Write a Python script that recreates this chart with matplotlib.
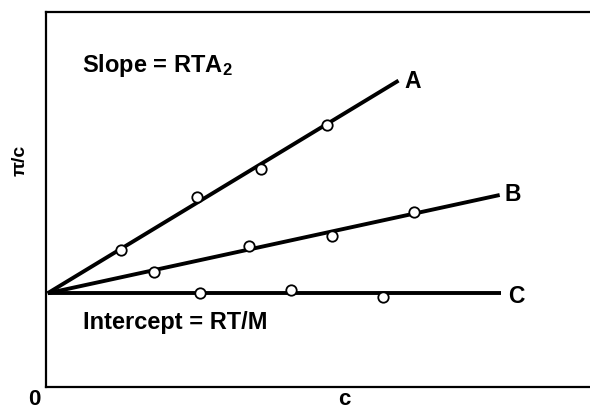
import matplotlib
matplotlib.use("Agg")
import matplotlib.pyplot as plt

plt.rcParams['font.family'] = ['Liberation Sans', 'DejaVu Sans']
plt.rcParams['mathtext.fontset'] = 'custom'
plt.rcParams['mathtext.default'] = 'regular'

# Data
series = ["A", "B", "C"]
intercept = 2.5
line_end_x = [6.45, 8.31, 8.33]
line_end_y = [8.17, 5.12, 2.50]
points_x = {
    "A": [1.34, 2.75, 3.93, 5.13],
    "B": [1.96, 3.71, 5.23, 6.73],
    "C": [2.81, 4.47, 6.16],
}
points_y = {
    "A": [3.65, 5.06, 5.81, 6.99],
    "B": [3.07, 3.76, 4.03, 4.67],
    "C": [2.50, 2.59, 2.41],
}
label_pos = {"A": (6.56, 7.97), "B": (8.40, 4.96), "C": (8.47, 2.24)}

W, H = 590, 411
fig = plt.figure(figsize=(W / 100, H / 100), dpi=100)
left, right, top, bottom = 46, 590, 12, 387
ax = fig.add_axes([left / W, 1 - bottom / H, (right - left) / W, (bottom - top) / H])

for s, xe, ye in zip(series, line_end_x, line_end_y):
    ax.plot([0, xe], [intercept, ye], color='black', lw=2.8, solid_capstyle='butt', zorder=2)
    ax.plot(points_x[s], points_y[s], 'o', ms=7.5, mfc='white', mec='black', mew=1.3, zorder=3)
    lx, ly = label_pos[s]
    ax.text(lx, ly, s, fontsize=16.5, fontweight='bold', ha='left', va='baseline')

ax.text(0.625, 8.40, r"Slope = RTA$_2$", fontsize=17, fontweight='bold', ha='left', va='baseline')
ax.text(0.643, 1.55, "Intercept = RT/M", fontsize=17, fontweight='bold', ha='left', va='baseline')

ax.text(-0.24, -0.61, "0", fontsize=16, fontweight='bold', ha='center', va='bottom', clip_on=False)
ax.text(5.46, -0.61, "c", fontsize=16, fontweight='bold', ha='center', va='bottom', clip_on=False)
ax.text(-0.50, 6.05, "π/c", fontsize=14, fontweight='bold', ha='center', va='center', rotation=90, clip_on=False)

ax.set_xlim(-0.03, 9.97)
ax.set_ylim(0, 10)
ax.set_xticks([])
ax.set_yticks([])
for sp in ['left', 'bottom', 'top']:
    ax.spines[sp].set_linewidth(1.6)
ax.spines['right'].set_visible(False)

fig.savefig("out.png", dpi=100)
